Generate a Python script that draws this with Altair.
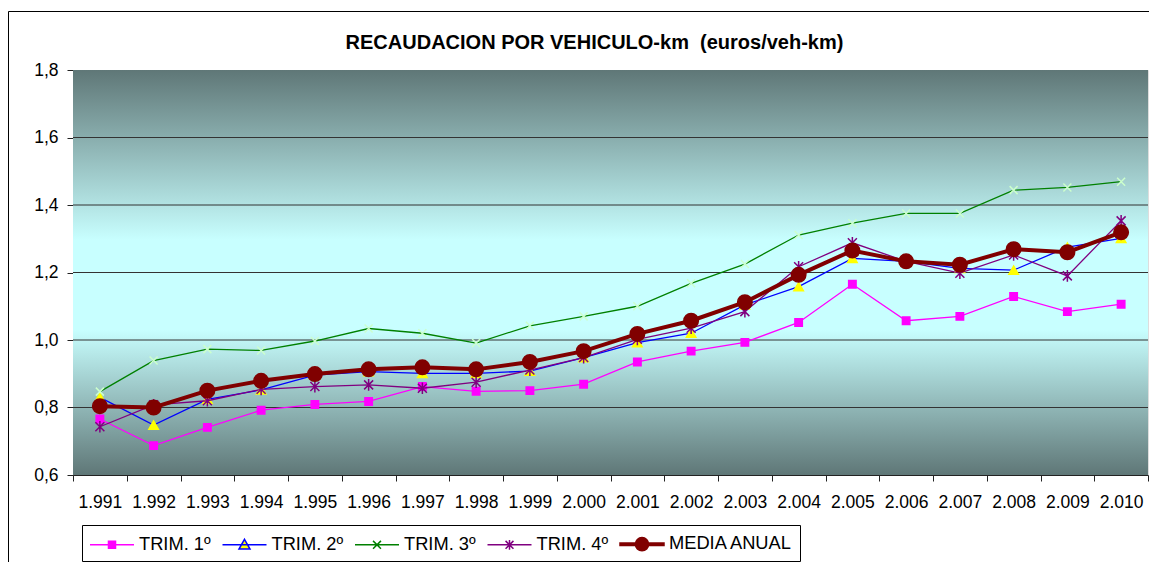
import altair as alt
import pandas as pd

years = ["1.991", "1.992", "1.993", "1.994", "1.995", "1.996", "1.997", "1.998", "1.999", "2.000",
         "2.001", "2.002", "2.003", "2.004", "2.005", "2.006", "2.007", "2.008", "2.009", "2.010"]
trim1 = [0.766, 0.687, 0.741, 0.792, 0.809, 0.818, 0.862, 0.848, 0.850, 0.869,
         0.935, 0.967, 0.993, 1.052, 1.165, 1.057, 1.070, 1.129, 1.084, 1.106]
trim2 = [0.830, 0.748, 0.824, 0.852, 0.896, 0.906, 0.901, 0.901, 0.908, 0.948,
         0.992, 1.020, 1.104, 1.158, 1.242, 1.233, 1.212, 1.207, 1.275, 1.301]
trim3 = [0.847, 0.939, 0.973, 0.969, 0.997, 1.034, 1.020, 0.991, 1.042, 1.070,
         1.100, 1.168, 1.225, 1.311, 1.346, 1.375, 1.375, 1.444, 1.452, 1.469]
trim4 = [0.743, 0.808, 0.820, 0.854, 0.862, 0.867, 0.857, 0.875, 0.911, 0.948,
         1.002, 1.035, 1.084, 1.217, 1.288, 1.233, 1.198, 1.252, 1.190, 1.353]
media = [0.804, 0.800, 0.850, 0.879, 0.899, 0.913, 0.919, 0.913, 0.935, 0.967,
         1.018, 1.057, 1.112, 1.193, 1.265, 1.233, 1.223, 1.269, 1.260, 1.319]

names = ["TRIM. 1º", "TRIM. 2º", "TRIM. 3º", "TRIM. 4º", "MEDIA ANUAL"]
series = [trim1, trim2, trim3, trim4, media]
y_ticks = [0.6, 0.8, 1.0, 1.2, 1.4, 1.6, 1.8]
title_text = "RECAUDACION POR VEHICULO-km \u00a0(euros/veh-km)"

line_colors = ["#ff00ff", "#0000ff", "#008000", "#800080", "#800000"]
marker_fill = ["#ff00ff", "#ffff00", "transparent", "transparent", "#800000"]
marker_stroke = ["#ff00ff", "#ffff00", "#ccffcc", "#800080", "#800000"]
line_widths = [1.3, 1.3, 1.3, 1.3, 4]
marker_shapes = ["square", "triangle-up",
                 "M-1,-1L1,1M-1,1L1,-1",
                 "M-1,-1L1,1M-1,1L1,-1M0,-1.3V1.3",
                 "circle"]
marker_sizes = [55, 90, 64, 81, 210]
marker_filled = [True, True, False, False, True]

legend_paths = [
    "M-1,0H3M0.68,-0.32H1.32V0.32H0.68Z",
    "M-1,0H3M1,-0.5L1.5,0.38H0.5Z",
    "M-1,0H3M0.64,-0.36L1.36,0.36M0.64,0.36L1.36,-0.36",
    "M-1,0H3M0.64,-0.36L1.36,0.36M0.64,0.36L1.36,-0.36M1,-0.45V0.45",
    "M-1,-0.12H0.4V0.12H-1ZM1.6,-0.12H3V0.12H1.6ZM1.6,0A0.6,0.6,0,1,1,0.4,0A0.6,0.6,0,1,1,1.6,0Z",
]

rows = []
for n, vals in zip(names, series):
    for yr, v in zip(years, vals):
        rows.append({"year": yr, "serie": n, "value": v})
df = pd.DataFrame(rows)

W, H = 1075, 405
FONT = "Liberation Sans"

yscale = alt.Scale(domain=[0.6, 1.8], nice=False, zero=False)
xscale = alt.Scale(type="band", domain=years, paddingInner=0, paddingOuter=0)

yaxis = alt.Axis(values=y_ticks, labelExpr="replace(format(datum.value, '.1f'), '.', ',')",
                 grid=False, tickSize=6, tickColor="#222", domainColor="#222",
                 labelFontSize=17.5, labelFont=FONT, labelColor="black", labelPadding=9, title=None)
xaxis = alt.Axis(tickBand="extent", grid=False, tickSize=6, tickColor="#222", domainColor="#222",
                 labelFontSize=17.5, labelFont=FONT, labelColor="black", labelPadding=12,
                 labelAngle=0, title=None, labelOverlap=False)

grad = alt.LinearGradient(
    gradient="linear",
    stops=[alt.GradientStop(color="#5f7777", offset=0),
           alt.GradientStop(color="#c8ffff", offset=0.42),
           alt.GradientStop(color="#c8ffff", offset=0.64),
           alt.GradientStop(color="#5f7777", offset=1)],
    x1=0, x2=0, y1=0, y2=1)

one = pd.DataFrame({"k": [0]})
bg = alt.Chart(one).mark_rect(fill=grad).encode(
    x=alt.value(0), x2=alt.value(W), y=alt.value(0), y2=alt.value(H))

frame = alt.Chart(one).mark_rect(fill="transparent", stroke="black", strokeWidth=1).encode(
    x=alt.value(-64.5), x2=alt.value(W + 200), y=alt.value(-58.5), y2=alt.value(H + 300))

grid = alt.Chart(pd.DataFrame({"v": y_ticks[1:-1]})).mark_rule(color="#333333", strokeWidth=1).encode(
    y=alt.Y("v:Q", scale=yscale, axis=yaxis))

layers = [frame, bg, grid]
for i, n in enumerate(names):
    lyr = alt.Chart(df).transform_filter(alt.datum.serie == n).mark_line(
        color=line_colors[i], strokeWidth=line_widths[i],
        point=alt.OverlayMarkDef(shape=marker_shapes[i], filled=marker_filled[i],
                                 color=marker_stroke[i],
                                 fill=marker_fill[i], stroke=marker_stroke[i],
                                 strokeWidth=1.5, size=marker_sizes[i], opacity=1)
    ).encode(
        x=alt.X("year:N", scale=xscale, axis=xaxis, sort=years),
        y=alt.Y("value:Q", scale=yscale, axis=yaxis),
    )
    layers.append(lyr)

leg = alt.Legend(title=None, orient="none", legendX=9, legendY=455, direction="horizontal",
                 symbolSize=484, labelFontSize=18.3, labelFont=FONT, labelColor="black",
                 labelOffset=26, columnPadding=8.5, padding=7, strokeColor="black",
                 fillColor="white", symbolStrokeWidth=1.5, rowPadding=0, labelLimit=300,
                 symbolOpacity=1)

legend_layer = alt.Chart(df).transform_filter("false").mark_point(filled=True).encode(
    shape=alt.Shape("serie:N", scale=alt.Scale(domain=names, range=legend_paths), legend=leg),
    stroke=alt.Stroke("serie:N", scale=alt.Scale(domain=names, range=line_colors), legend=leg),
    fill=alt.Fill("serie:N", scale=alt.Scale(domain=names, range=marker_fill), legend=leg),
)
layers.append(legend_layer)

chart = alt.layer(*layers).properties(
    width=W, height=H,
    title=alt.TitleParams(title_text, font=FONT, fontSize=20,
                          fontWeight="bold", color="black", anchor="middle", dx=-16, offset=0, dy=42),
    autosize=alt.AutoSizeParams(type="none"),
    padding={"left": 65, "top": 62, "right": 1, "bottom": 87},
).configure_view(stroke="#888888").configure(background="white")

chart.save("out.html", embed_options={"renderer": "svg", "actions": False})
